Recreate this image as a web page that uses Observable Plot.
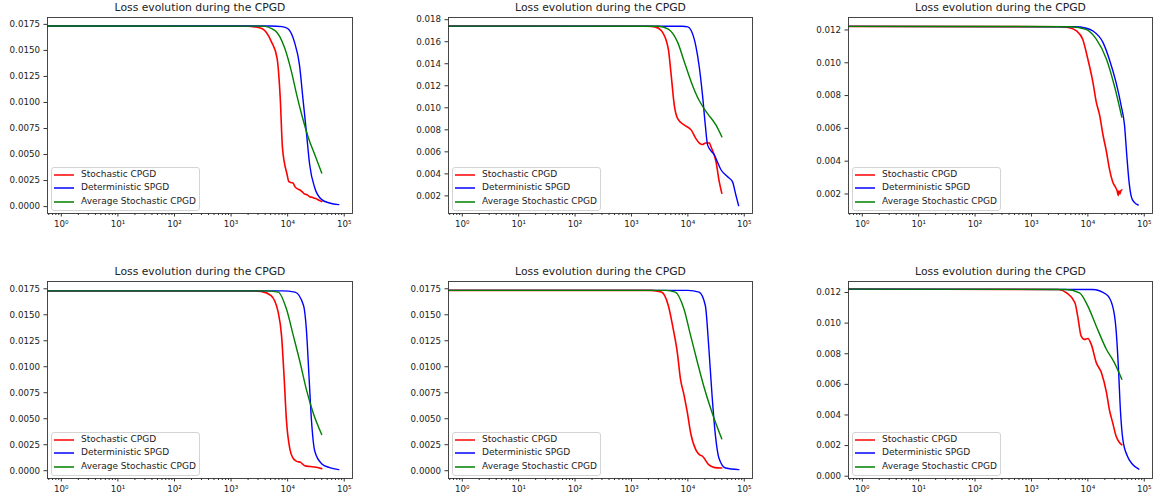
<!DOCTYPE html>
<html><head><meta charset="utf-8">
<script src="https://cdn.jsdelivr.net/npm/d3@7"></script>
<script src="https://cdn.jsdelivr.net/npm/@observablehq/plot@0.6"></script>
<style>
body{margin:0;background:#fff;font-family:"DejaVu Sans",sans-serif;}
#root{position:relative;width:1154px;height:499px;overflow:hidden;background:#fff;}
.panel{position:absolute;}
.panel svg{max-width:none !important;}
.legend{position:absolute;border:1px solid #d4d4d4;border-radius:3px;background:rgba(255,255,255,0.85);box-sizing:border-box;font-size:9px;color:#222;}
.row{position:absolute;left:0;height:13.6px;width:100%;white-space:nowrap;}
.sw{position:absolute;left:2.5px;top:5px;}
.lbl{position:absolute;left:29.5px;top:0;line-height:13.6px;}
</style></head><body><div id="root"></div>
<script>
// ---- series / labels ----
const seriesNames = ["Stochastic CPGD", "Deterministic SPGD", "Average Stochastic CPGD"];
const seriesColors = ["#ff0000", "#0000ff", "#008000"];
const title = "Loss evolution during the CPGD";
const xMajorTicks = [1, 10, 100, 1000, 10000, 100000];
const xMajorLabels = ["10⁰", "10¹", "10²", "10³", "10⁴", "10⁵"];

// ---- panel 1 (top-left) ----
const p1Stochastic = [[0.5,0.01735],[1700,0.01735],[2300,0.0173],[3500,0.0171],[5200,0.0158],[6500,0.01425],[7400,0.0104],[8100,0.00564],[9800,0.00306],[10500,0.0024],[11700,0.0023],[12500,0.00225],[13500,0.0019],[15000,0.0017],[16500,0.0016],[17800,0.00146],[20000,0.0012],[22000,0.00115],[24500,0.00095],[27000,0.00089],[30000,0.0008],[33000,0.00072],[36000,0.0006],[40000,0.0005]];
const p1Deterministic = [[0.5,0.01735],[5000,0.01735],[8000,0.01728],[10000,0.0171],[13200,0.0158],[16200,0.01358],[18600,0.0104],[21400,0.0072],[24500,0.00402],[30200,0.00179],[40000,0.00067],[55000,0.00035],[80000,0.00019]];
const p1Average = [[0.5,0.01735],[3500,0.01733],[6000,0.0169],[8900,0.0152],[11700,0.01294],[14500,0.01071],[17800,0.0088],[23400,0.00657],[30200,0.00497],[40000,0.00322]];
const p1YTicks = [0, 0.0025, 0.005, 0.0075, 0.01, 0.0125, 0.015, 0.0175];

// ---- panel 2 (top-middle) ----
const p2Stochastic = [[0.5,0.01742],[1950,0.0174],[2600,0.01735],[3400,0.0170],[4500,0.01535],[5000,0.01324],[5750,0.01023],[6600,0.00902],[8700,0.00842],[11500,0.00797],[13800,0.00722],[16000,0.0068],[18200,0.00667],[20500,0.0068],[22500,0.0068],[24000,0.00682],[25700,0.00646],[31600,0.0051],[36000,0.00329],[40000,0.00224]];
const p2Deterministic = [[0.5,0.01742],[8000,0.0174],[10000,0.01735],[11500,0.0170],[13800,0.01565],[15800,0.01384],[18200,0.01113],[20400,0.00842],[22400,0.00661],[29500,0.00571],[38900,0.00435],[50100,0.00375],[61700,0.00329],[70800,0.0021],[79400,0.00112]];
const p2Average = [[0.5,0.01742],[3000,0.0174],[4500,0.01715],[6600,0.01594],[8700,0.01414],[11500,0.01233],[15800,0.01068],[22400,0.00947],[31600,0.00842],[40000,0.00736]];
const p2YTicks = [0.002, 0.004, 0.006, 0.008, 0.010, 0.012, 0.014, 0.016, 0.018];

// ---- panel 3 (top-right) ----
const p3Stochastic = [[0.5,0.01222],[3200,0.0122],[4500,0.01215],[6300,0.01194],[8100,0.01143],[10000,0.01022],[12300,0.0088],[14100,0.0076],[16200,0.00679],[18600,0.00558],[21400,0.00456],[24000,0.00356],[27500,0.00275],[31600,0.00235],[33000,0.0022],[34500,0.0019],[35500,0.0022],[37000,0.002],[38500,0.0022],[40000,0.00225]];
const p3Deterministic = [[0.5,0.01222],[6000,0.0122],[9000,0.01212],[12300,0.01194],[18600,0.01123],[24000,0.01022],[31600,0.0088],[38900,0.00739],[44700,0.00618],[49000,0.00436],[53700,0.00275],[58900,0.00184],[66000,0.0015],[78000,0.00133]];
const p3Average = [[0.5,0.01222],[5000,0.0122],[9300,0.01204],[14100,0.01144],[21400,0.01022],[29500,0.0086],[40000,0.00669]];
const p3YTicks = [0.002, 0.004, 0.006, 0.008, 0.010, 0.012];

// ---- panel 4 (bottom-left) ----
const p4Stochastic = [[0.5,0.0173],[2500,0.0173],[3400,0.01725],[5100,0.01685],[6800,0.01525],[7800,0.01299],[8700,0.0088],[9500,0.00493],[11000,0.00203],[12500,0.0012],[14500,0.0009],[17000,0.0008],[20000,0.00048],[25000,0.0004],[30000,0.00035],[40000,0.0002]];
const p4Deterministic = [[0.5,0.0173],[8000,0.0173],[13500,0.01718],[19100,0.01589],[21400,0.01363],[24000,0.0088],[26300,0.00493],[30200,0.00187],[39800,0.00068],[55000,0.0003],[80000,0.0001]];
const p4Average = [[0.5,0.0173],[4000,0.0173],[6800,0.01718],[9500,0.01557],[12600,0.01299],[16600,0.01041],[21400,0.00783],[28200,0.00558],[40000,0.00348]];
const p4YTicks = [0, 0.0025, 0.005, 0.0075, 0.01, 0.0125, 0.015, 0.0175];

// ---- panel 5 (bottom-middle) ----
const p5Stochastic = [[0.5,0.01735],[2200,0.01735],[3400,0.01718],[4500,0.01589],[5500,0.01363],[6500,0.01138],[7400,0.0088],[8500,0.00735],[9800,0.00558],[11200,0.00364],[13800,0.00203],[16000,0.00155],[18200,0.00139],[23400,0.00058],[30000,0.0003],[40000,0.00026]];
const p5Deterministic = [[0.5,0.01735],[10000,0.01735],[15800,0.01718],[20400,0.01589],[23400,0.01202],[26900,0.00719],[30900,0.00332],[35500,0.00123],[46800,0.00026],[80000,0.0001]];
const p5Average = [[0.5,0.01735],[4000,0.01735],[6000,0.01718],[8500,0.01557],[11200,0.01299],[14800,0.01041],[19100,0.00815],[26900,0.00558],[40000,0.00306]];
const p5YTicks = [0, 0.0025, 0.005, 0.0075, 0.01, 0.0125, 0.015, 0.0175];

// ---- panel 6 (bottom-right) ----
const p6Stochastic = [[0.5,0.01222],[3000,0.0122],[4200,0.01198],[5900,0.01133],[6600,0.01046],[7600,0.00915],[8700,0.00894],[10000,0.009],[11500,0.00861],[14100,0.00742],[17400,0.00676],[21400,0.00546],[24000,0.00437],[27500,0.0035],[31600,0.00263],[36300,0.0022],[40000,0.00205]];
const p6Deterministic = [[0.5,0.01222],[12000,0.0122],[21400,0.01187],[27500,0.01111],[31600,0.00959],[34700,0.00719],[38000,0.00415],[41700,0.00241],[50100,0.00132],[61700,0.00078],[80000,0.00046]];
const p6Average = [[0.5,0.01222],[4000,0.0122],[7100,0.01198],[10000,0.01111],[14100,0.0098],[21400,0.00828],[29500,0.00742],[40000,0.00633]];
const p6YTicks = [0, 0.002, 0.004, 0.006, 0.008, 0.010, 0.012];

// ---- assemble ----
const panels = [
  {series:[p1Stochastic,p1Deterministic,p1Average], yTicks:p1YTicks, yDomain:[-0.00066,0.01816], fmt:".4f"},
  {series:[p2Stochastic,p2Deterministic,p2Average], yTicks:p2YTicks, yDomain:[0.0004,0.0182], fmt:".3f"},
  {series:[p3Stochastic,p3Deterministic,p3Average], yTicks:p3YTicks, yDomain:[0.00081,0.01276], fmt:".3f"},
  {series:[p4Stochastic,p4Deterministic,p4Average], yTicks:p4YTicks, yDomain:[-0.00075,0.0182], fmt:".4f"},
  {series:[p5Stochastic,p5Deterministic,p5Average], yTicks:p5YTicks, yDomain:[-0.00075,0.0182], fmt:".4f"},
  {series:[p6Stochastic,p6Deterministic,p6Average], yTicks:p6YTicks, yDomain:[-0.00015,0.01272], fmt:".3f"}
];
const frameLefts = [47, 448, 848];
const frameWidths = [305, 304, 304];
const frameTops = [17, 281];
const frameHeights = [196, 197];
const svgTops = [0, 264];
const marginBottoms = [30, 21];
const xDomain = [0.57, 140000];
const minorTicks = [];
for (let k = -1; k <= 5; k++) for (let m = 2; m <= 9; m++) {
  const v = m * Math.pow(10, k);
  if (v > xDomain[0] && v < xDomain[1]) minorTicks.push(v);
}
const root = document.getElementById("root");
const NS = "http://www.w3.org/2000/svg";
panels.forEach((p, i) => {
  const col = i % 3, row = Math.floor(i / 3);
  const ML = 47, MR = 14;
  const W = ML + frameWidths[col] + MR;
  const H = frameTops[row] - svgTops[row] + frameHeights[row] + marginBottoms[row];
  const rows = [];
  p.series.forEach((arr, si) => arr.forEach(([x, y]) => rows.push({x, y, s: seriesNames[si]})));
  const chart = Plot.plot({
    width: W,
    height: H,
    marginLeft: ML, marginRight: MR,
    marginTop: frameTops[row] - svgTops[row], marginBottom: marginBottoms[row],
    style: {fontFamily: "DejaVu Sans", fontSize: "8.7px", color: "#222", background: "transparent", maxWidth: "none"},
    x: {type: "log", domain: xDomain, label: null},
    y: {domain: p.yDomain, label: null},
    color: {domain: seriesNames, range: seriesColors},
    marks: [
      Plot.line(rows, {x: "x", y: "y", z: "s", stroke: "s", strokeWidth: d => d.s === seriesNames[0] ? 1.6 : 1.4, curve: "monotone-x", clip: true}),
      Plot.frame({stroke: "#333", strokeWidth: 0.9}),
      Plot.axisY({ticks: p.yTicks, tickFormat: d3.format(p.fmt), tickSize: 3.5, tickPadding: 4, label: null, stroke: "#333"}),
      Plot.axisX({ticks: xMajorTicks, tickFormat: d => xMajorLabels[xMajorTicks.indexOf(d)], tickSize: 3.5, tickPadding: 3.5, label: null, stroke: "#333"}),
      Plot.axisX({ticks: minorTicks, tickFormat: () => "", tickSize: 2, label: null, stroke: "#333"}),
      Plot.text([title], {text: d => d, frameAnchor: "top", dy: -10, lineAnchor: "middle", fontSize: 10.8, fill: "#222"})
    ]
  });
  chart.style.width = W + "px";
  chart.style.height = H + "px";
  const wrap = document.createElement("div");
  wrap.className = "panel";
  wrap.style.left = (frameLefts[col] - ML) + "px";
  wrap.style.top = svgTops[row] + "px";
  wrap.style.width = W + "px";
  wrap.style.height = H + "px";
  wrap.appendChild(chart);
  root.appendChild(wrap);
  // legend
  const lg = document.createElement("div");
  lg.className = "legend";
  const lgW = 149, lgH = 44;
  lg.style.left = (frameLefts[col] + 3.5) + "px";
  lg.style.top = (frameTops[row] + frameHeights[row] - 2.5 - lgH) + "px";
  lg.style.width = lgW + "px";
  lg.style.height = lgH + "px";
  seriesNames.forEach((name, si) => {
    const r = document.createElement("div");
    r.className = "row";
    r.style.top = (0.3 + si * 13.6) + "px";
    const sw = document.createElementNS(NS, "svg");
    sw.setAttribute("class", "sw");
    sw.setAttribute("width", "20");
    sw.setAttribute("height", "4");
    const ln = document.createElementNS(NS, "line");
    ln.setAttribute("x1", "0"); ln.setAttribute("x2", "20");
    ln.setAttribute("y1", "2"); ln.setAttribute("y2", "2");
    ln.setAttribute("stroke", seriesColors[si]);
    ln.setAttribute("stroke-width", "1.5");
    sw.appendChild(ln);
    const tx = document.createElement("div");
    tx.className = "lbl";
    tx.textContent = name;
    r.appendChild(sw); r.appendChild(tx);
    lg.appendChild(r);
  });
  root.appendChild(lg);
});
</script></body></html>
